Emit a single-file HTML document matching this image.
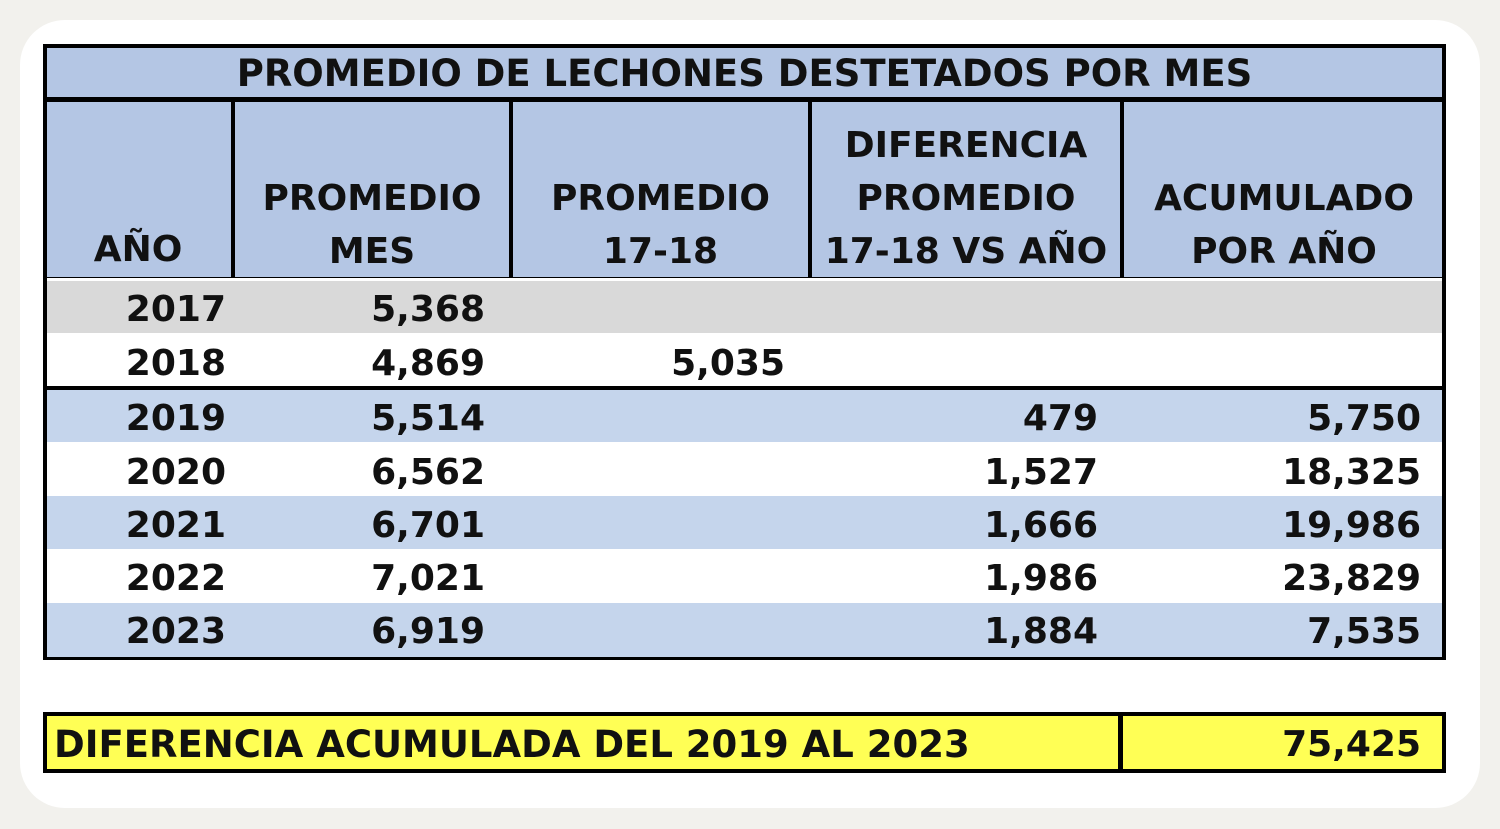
<!DOCTYPE html>
<html><head><meta charset="utf-8"><style>
body{margin:0;width:1500px;height:829px;background:#f2f1ed;position:relative;overflow:hidden;font-family:"DejaVu Sans","Liberation Sans",sans-serif;color:#111}
.card{position:absolute;left:20px;top:20px;width:1460px;height:788px;background:#fff;border-radius:45px}
.a{position:absolute;box-sizing:border-box}
.t{position:absolute;font-size:36px;font-weight:bold;line-height:40px;white-space:nowrap}
.r{text-align:right}
.c{text-align:center}
</style></head><body>
<div class="card"></div>
<div class="a" style="left:43px;top:44px;width:1403px;height:57px;background:#b4c6e4;border:4px solid #000"></div>
<div class="t c" style="left:43px;top:54px;width:1403px;font-size:37px">PROMEDIO DE LECHONES DESTETADOS POR MES</div>
<div class="a" style="left:43px;top:98px;width:1403px;height:183px;background:#b4c6e4;border:4px solid #000"></div>
<div class="a" style="left:231px;top:98px;width:4px;height:183px;background:#000"></div>
<div class="a" style="left:509px;top:98px;width:4px;height:183px;background:#000"></div>
<div class="a" style="left:808px;top:98px;width:4px;height:183px;background:#000"></div>
<div class="a" style="left:1120px;top:98px;width:4px;height:183px;background:#000"></div>
<div class="t c" style="left:43px;top:230px;width:190px">AÑO</div>
<div class="t c" style="left:233px;top:172px;width:278px;line-height:53px">PROMEDIO<br>MES</div>
<div class="t c" style="left:511px;top:172px;width:299px;line-height:53px">PROMEDIO<br>17-18</div>
<div class="t c" style="left:810px;top:119px;width:312px;line-height:53px">DIFERENCIA<br>PROMEDIO<br>17-18 VS AÑO</div>
<div class="t c" style="left:1122px;top:172px;width:324px;line-height:53px">ACUMULADO<br>POR AÑO</div>
<div class="a" style="left:43px;top:278px;width:1403px;height:382px;border:4px solid #000;border-top:none;background:#fff"></div>
<div class="a" style="left:47px;top:281px;width:1395px;height:52px;background:#d9d9d9"></div>
<div class="a" style="left:43px;top:386px;width:1403px;height:4px;background:#000"></div>
<div class="a" style="left:47px;top:390px;width:1395px;height:52px;background:#c5d5ec"></div>
<div class="a" style="left:47px;top:496px;width:1395px;height:53px;background:#c5d5ec"></div>
<div class="a" style="left:47px;top:603px;width:1395px;height:54px;background:#c5d5ec"></div>

<div class="t r" style="left:43px;top:290px;width:183px">2017</div><div class="t r" style="left:233px;top:290px;width:252px">5,368</div>
<div class="t r" style="left:43px;top:344px;width:183px">2018</div><div class="t r" style="left:233px;top:344px;width:252px">4,869</div><div class="t r" style="left:511px;top:344px;width:274px">5,035</div>
<div class="t r" style="left:43px;top:399px;width:183px">2019</div><div class="t r" style="left:233px;top:399px;width:252px">5,514</div><div class="t r" style="left:810px;top:399px;width:288px">479</div><div class="t r" style="left:1122px;top:399px;width:299px">5,750</div>
<div class="t r" style="left:43px;top:453px;width:183px">2020</div><div class="t r" style="left:233px;top:453px;width:252px">6,562</div><div class="t r" style="left:810px;top:453px;width:288px">1,527</div><div class="t r" style="left:1122px;top:453px;width:299px">18,325</div>
<div class="t r" style="left:43px;top:506px;width:183px">2021</div><div class="t r" style="left:233px;top:506px;width:252px">6,701</div><div class="t r" style="left:810px;top:506px;width:288px">1,666</div><div class="t r" style="left:1122px;top:506px;width:299px">19,986</div>
<div class="t r" style="left:43px;top:559px;width:183px">2022</div><div class="t r" style="left:233px;top:559px;width:252px">7,021</div><div class="t r" style="left:810px;top:559px;width:288px">1,986</div><div class="t r" style="left:1122px;top:559px;width:299px">23,829</div>
<div class="t r" style="left:43px;top:612px;width:183px">2023</div><div class="t r" style="left:233px;top:612px;width:252px">6,919</div><div class="t r" style="left:810px;top:612px;width:288px">1,884</div><div class="t r" style="left:1122px;top:612px;width:299px">7,535</div>
<div class="a" style="left:43px;top:712px;width:1403px;height:61px;background:#ffff55;border:4px solid #000"></div>
<div class="a" style="left:1118px;top:712px;width:5px;height:61px;background:#000"></div>
<div class="t" style="left:54px;top:725px;font-size:37px">DIFERENCIA ACUMULADA DEL 2019 AL 2023</div>
<div class="t r" style="left:1122px;top:725px;width:299px">75,425</div>
</body></html>
